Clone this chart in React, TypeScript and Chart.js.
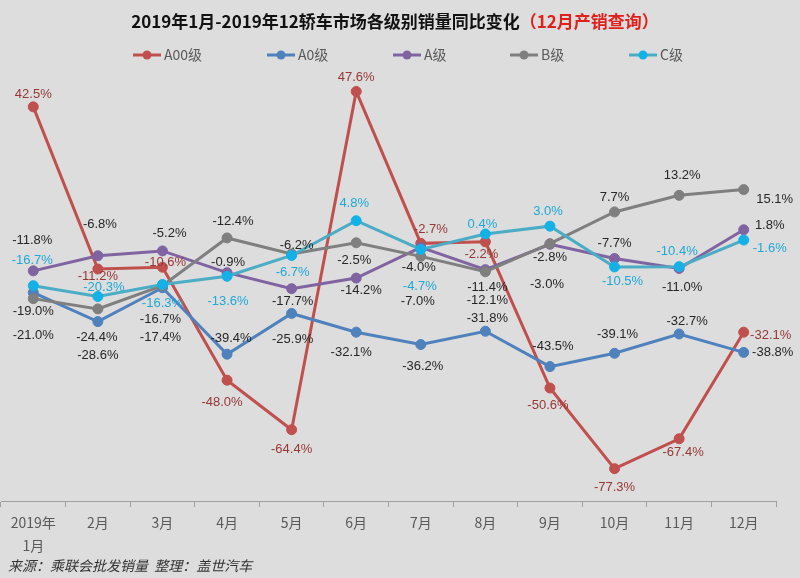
import React, { useEffect, useRef } from "react";
import { Chart, registerables } from "chart.js";

Chart.register(...registerables);

// ---------- data ----------
const monthLabels: (string | string[])[] = [
  ["2019年", "1月"], "2月", "3月", "4月", "5月", "6月",
  "7月", "8月", "9月", "10月", "11月", "12月",
];
const seriesNames = ["A00级", "A0级", "A级", "B级", "C级"];
const a00Values = [42.5, -11.2, -10.6, -48.0, -64.4, 47.6, -2.7, -2.2, -50.6, -77.3, -67.4, -32.1];
const a0Values = [-19.0, -28.6, -17.4, -39.4, -25.9, -32.1, -36.2, -31.8, -43.5, -39.1, -32.7, -38.8];
const aValues = [-11.8, -6.8, -5.2, -12.4, -17.7, -14.2, -4.0, -11.4, -3.0, -7.7, -11.0, 1.8];
const bValues = [-21.0, -24.4, -16.7, -0.9, -6.2, -2.5, -7.0, -12.1, -2.8, 7.7, 13.2, 15.1];
const cValues = [-16.7, -20.3, -16.3, -13.6, -6.7, 4.8, -4.7, 0.4, 3.0, -10.5, -10.4, -1.6];
const titleMain = "2019年1月-2019年12轿车市场各级别销量同比变化";
const titleSub = "（12月产销查询）";
const sourceNote = "来源：乘联会批发销量  整理：盖世汽车";

// ---------- styles ----------
const lineColors = ["#c0504d", "#4f81bd", "#8064a2", "#7f7f7f", "#4bacc6"];
const pointColors = ["#c0504d", "#4f81bd", "#8064a2", "#7f7f7f", "#14b1e7"];
const labelColors = ["#953735", "#262626", "#262626", "#262626", "#1fa8d8"];
// label placement (dx, dy from each point), as laid out in the reference
const labelOffsets: number[][][] = [
  [[0, -12], [0, 7], [3, -5], [-5, 22], [0, 20], [0, -14], [10, -14], [-4, 13], [-2, 17], [0, 19], [4, 14], [27, 3]],
  [[0, 19], [0, 34], [-2, 50], [4, -16], [1, 26], [-5, 20], [2, 22], [2, -13], [3, -20], [3, -19], [8, -13], [29, 0]],
  [[-1, -30], [2, -31], [7, -17], [6, -51], [1, 13], [5, 12], [-2, 20], [2, 18], [-3, 40], [0, -15], [3, 19], [26, -4]],
  [[0, 37], [-1, 29], [-2, 34], [1, 24], [5, -9], [-2, 18], [-3, 45], [2, 29], [0, 14], [0, -15], [3, -20], [31, 10]],
  [[-1, -25], [6, -9], [0, 19], [1, 25], [1, 17], [-2, -17], [-1, 37], [-3, -10], [-2, -15], [8, 14], [-2, -15], [26, 8]],
];
const legendMarkerX = [133, 267, 393, 510, 629];
const CJK = '"Noto Sans CJK SC", "Noto Sans", sans-serif';
const LABEL_FONT = '13px "Liberation Sans Narrow", "Liberation Sans", Arial, sans-serif';

const decorPlugin = {
  id: "decor",
  beforeDraw(chart: any) {
    const ctx = chart.ctx;
    ctx.save();
    ctx.fillStyle = "#dddddd";
    ctx.fillRect(0, 0, chart.width, chart.height);
    ctx.restore();
  },
  afterDraw(chart: any) {
    const ctx = chart.ctx;
    ctx.save();
    // title
    ctx.font = `bold 17px ${CJK}`;
    ctx.textBaseline = "middle";
    ctx.textAlign = "left";
    const w1 = ctx.measureText(titleMain).width;
    const w2 = ctx.measureText(titleSub).width;
    const tx = 395 - (w1 + w2) / 2;
    ctx.fillStyle = "#111111";
    ctx.fillText(titleMain, tx, 22);
    ctx.fillStyle = "#e0201b";
    ctx.fillText(titleSub, tx + w1, 22);
    // legend
    ctx.font = `14px ${CJK}`;
    seriesNames.forEach((name, i) => {
      const x0 = legendMarkerX[i];
      ctx.strokeStyle = lineColors[i];
      ctx.lineWidth = 3;
      ctx.beginPath();
      ctx.moveTo(x0, 55);
      ctx.lineTo(x0 + 28, 55);
      ctx.stroke();
      ctx.fillStyle = pointColors[i];
      ctx.beginPath();
      ctx.arc(x0 + 14, 55, 4.5, 0, Math.PI * 2);
      ctx.fill();
      ctx.fillStyle = "#595959";
      ctx.fillText(name, x0 + 31, 55);
    });
    // source
    ctx.font = `italic 14px ${CJK}`;
    ctx.fillStyle = "#333333";
    ctx.fillText(sourceNote, 8, 566);
    ctx.restore();
  },
  afterDatasetsDraw(chart: any) {
    const ctx = chart.ctx;
    ctx.save();
    ctx.font = LABEL_FONT;
    ctx.textAlign = "center";
    ctx.textBaseline = "middle";
    chart.data.datasets.forEach((ds: any, di: number) => {
      const meta = chart.getDatasetMeta(di);
      meta.data.forEach((pt: any, i: number) => {
        const off = labelOffsets[di][i];
        ctx.fillStyle = labelColors[di];
        ctx.fillText(ds.data[i].toFixed(1) + "%", pt.x + off[0], pt.y + off[1]);
      });
    });
    ctx.restore();
  },
};

export default function App() {
  const canvasRef = useRef<HTMLCanvasElement | null>(null);

  useEffect(() => {
    if (!canvasRef.current) return;
    const all = [a00Values, a0Values, aValues, bValues, cValues];
    const chart = new Chart(canvasRef.current, {
      type: "line",
      data: {
        labels: monthLabels,
        datasets: all.map((vals, i) => ({
          label: seriesNames[i],
          data: vals,
          borderColor: lineColors[i],
          backgroundColor: pointColors[i],
          pointBackgroundColor: pointColors[i],
          pointBorderColor: pointColors[i],
          pointBorderWidth: 1,
          pointRadius: 5,
          borderWidth: 3,
          tension: 0,
          fill: false,
          clip: false,
          order: 4 - i,
        })),
      },
      options: {
        responsive: false,
        animation: false,
        devicePixelRatio: 1,
        layout: { autoPadding: false, padding: { left: 1, right: 24, top: 54, bottom: 0 } },
        plugins: {
          legend: { display: false },
          title: { display: false },
          tooltip: { enabled: false },
        },
        scales: {
          x: {
            type: "category",
            offset: true,
            grid: {
              offset: true,
              drawOnChartArea: false,
              drawTicks: true,
              tickLength: 6,
              color: "#a0a0a0",
            },
            border: { display: true, color: "#a0a0a0", width: 1 },
            ticks: {
              color: "#595959",
              font: { family: CJK, size: 14, lineHeight: 1.65 },
              padding: 4,
              maxRotation: 0,
              autoSkip: false,
            },
            afterFit: (scale: any) => {
              scale.height = 77;
              scale.paddingLeft = 0;
              scale.paddingRight = 0;
            },
          },
          y: {
            display: false,
            min: -88,
            max: 60,
          },
        },
      },
      plugins: [decorPlugin],
    } as any);
    return () => chart.destroy();
  }, []);

  return (
    <div style={{ position: "fixed", left: 0, top: 0, width: 800, height: 578, background: "#dddddd" }}>
      <canvas ref={canvasRef} width={800} height={578} style={{ display: "block", width: 800, height: 578 }} />
    </div>
  );
}
